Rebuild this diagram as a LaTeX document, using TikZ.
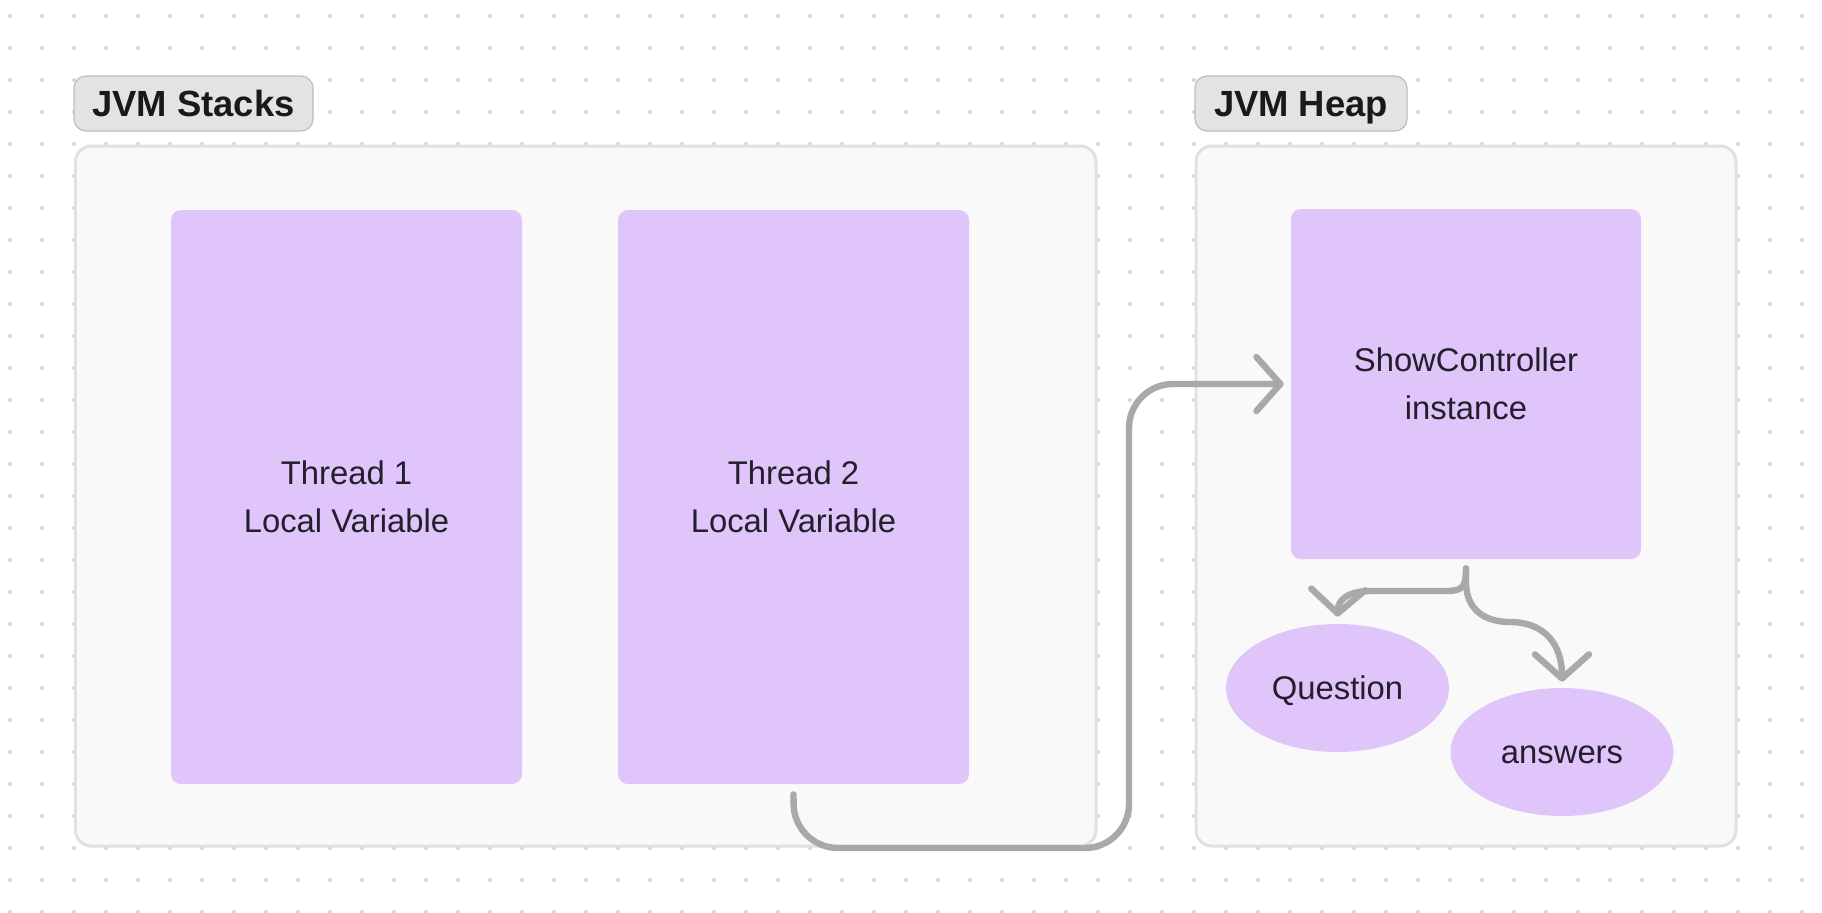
\documentclass[tikz,border=0pt]{standalone}
\usepackage{fontspec}
\setmainfont{Liberation Sans}
\usetikzlibrary{arrows.meta,shapes.geometric}
\definecolor{purp}{HTML}{E0C5FB}
\definecolor{contfill}{HTML}{F9F9F9}
\definecolor{contline}{HTML}{E1E1E1}
\definecolor{tagfill}{HTML}{E3E3E3}
\definecolor{tagline}{HTML}{BDBDBD}
\definecolor{arrowgray}{HTML}{A9A9A9}
\definecolor{dotgray}{HTML}{D6D6D6}
\definecolor{txt}{HTML}{231F2B}
\begin{document}
\begin{tikzpicture}[x=0.5pt,y=-0.5pt,
  container/.style={draw=contline, line width=1.5pt, fill=contfill, rounded corners=8pt, inner sep=0pt, minimum height=350pt},
  tag/.style={draw=tagline, line width=0.6pt, fill=tagfill, rounded corners=6pt, inner sep=0pt, minimum height=27.5pt, text=black!90, text height=13.1pt, text depth=0pt, font=\fontsize{18.2}{22}\selectfont\bfseries},
  membox/.style={fill=purp, rounded corners=5pt, inner sep=0pt, text=txt, align=center, font=\fontsize{16.4}{24}\selectfont},
  obj/.style={ellipse, fill=purp, inner sep=0pt, minimum width=111.5pt, minimum height=64pt, text=txt, text height=11.7pt, text depth=0pt, font=\fontsize{16.4}{24}\selectfont},
  ref/.style={draw=arrowgray, line width=3.2pt, line cap=round, line join=round, -{Straight Barb[length=12pt, width=27pt, round]}}
]
\useasboundingbox (0,0) rectangle (1822,912);
\fill[white] (0,0) rectangle (1822,912);
% dot grid
\foreach \i in {0,...,56}{
  \foreach \j in {0,...,28}{
    \fill[dotgray] (10+32*\i,16+32*\j) circle (1pt);
  }
}
% containers
\node[container, minimum width=510.25pt] (stacks) at (585.75,496) {};
\node[container, minimum width=270pt] (heap) at (1466,496) {};
% tags
\node[tag, minimum width=119.5pt] (stackstag) at (193.5,103.5) {JVM Stacks};
\node[tag, minimum width=106pt] (heaptag) at (1301,103.5) {JVM Heap};
% memory boxes
\node[membox, minimum width=175.5pt, minimum height=287pt] (t1) at (346.5,497) {Thread 1\\Local Variable};
\node[membox, minimum width=175.5pt, minimum height=287pt] (t2) at (793.5,497) {Thread 2\\Local Variable};
\node[membox, minimum width=175pt, minimum height=175pt] (show) at (1466,384) {ShowController\\instance};
% objects
\node[obj] (question) at (1337.5,688) {Question};
\node[obj] (answers) at (1562,752) {answers};
% connectors
\coordinate (t2out) at ([yshift=-5pt]t2.south);
\coordinate (showin) at ([xshift=-3.5pt]show.west);
\coordinate (showout) at ([yshift=-4.5pt]show.south);
\coordinate (qin) at ([yshift=3.5pt]question.north);
\coordinate (ain) at ([yshift=3pt]answers.north);
\draw[ref, rounded corners=22pt] (t2out) -- (794,848) -- (1129,848) -- (1129,384) -- (showin);
\draw[ref] (showout) .. controls (1466,588) and (1462,591) .. (1445,591) -- (1370,591) .. controls (1348,591) and (1338,600) .. (qin);
\draw[ref] (showout) -- (1466,582) .. controls (1466,610) and (1485,622) .. (1510,622) .. controls (1545,622) and (1562,645) .. (ain);
\end{tikzpicture}
\end{document}
